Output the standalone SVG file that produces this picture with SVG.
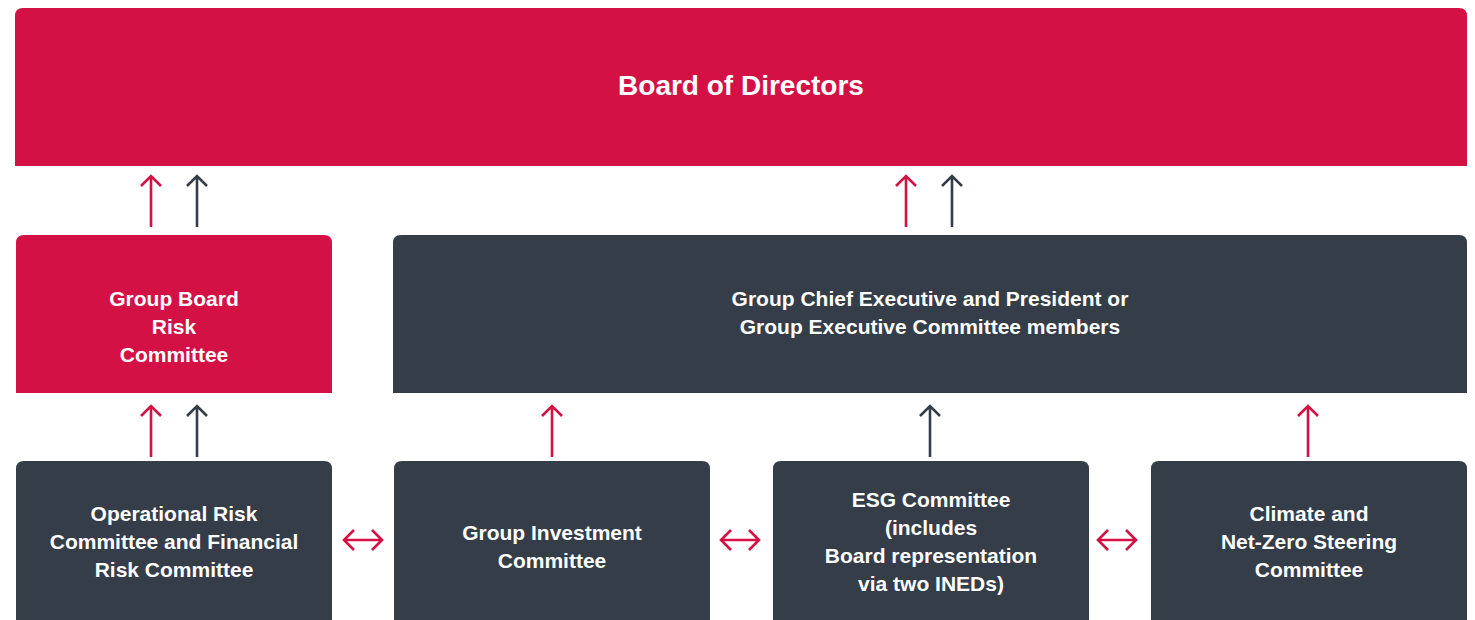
<svg xmlns="http://www.w3.org/2000/svg" width="1475" height="620" viewBox="0 0 1475 620">
<style>
.red{fill:#D31145}
.dark{fill:#343D48}
text{font-family:"Liberation Sans",Arial,sans-serif;font-weight:bold;fill:#fff;text-anchor:middle;font-size:21px}
.title{font-size:28px}
.ar{fill:none;stroke-width:2.6;stroke-linecap:butt;stroke-linejoin:miter}
.r{stroke:#D31145}
.d{stroke:#343D48}
</style>
<rect width="1475" height="620" fill="#fff"/>
<g id="board">
<path class="red" d="M15,166 V16 Q15,8 23,8 H1459 Q1467,8 1467,16 V166 Z"/>
<text class="title" x="741" y="95">Board of Directors</text>
</g>
<g id="gbrc">
<path class="red" d="M16,393 V243 Q16,235 24,235 H324 Q332,235 332,243 V393 Z"/>
<text x="174" y="306">Group Board</text>
<text x="174" y="334">Risk</text>
<text x="174" y="362">Committee</text>
</g>
<g id="gce">
<path class="dark" d="M393,393 V243 Q393,235 401,235 H1459 Q1467,235 1467,243 V393 Z"/>
<text x="930" y="306">Group Chief Executive and President or</text>
<text x="930" y="334">Group Executive Committee members</text>
</g>
<g id="orc">
<path class="dark" d="M16,620 V469 Q16,461 24,461 H324 Q332,461 332,469 V620 Z"/>
<text x="174" y="521">Operational Risk</text>
<text x="174" y="549">Committee and Financial</text>
<text x="174" y="577">Risk Committee</text>
</g>
<g id="gic">
<path class="dark" d="M394,620 V469 Q394,461 402,461 H702 Q710,461 710,469 V620 Z"/>
<text x="552" y="540">Group Investment</text>
<text x="552" y="568">Committee</text>
</g>
<g id="esg">
<path class="dark" d="M773,620 V469 Q773,461 781,461 H1081 Q1089,461 1089,469 V620 Z"/>
<text x="931" y="507">ESG Committee</text>
<text x="931" y="535">(includes</text>
<text x="931" y="563">Board representation</text>
<text x="931" y="591">via two INEDs)</text>
</g>
<g id="climate">
<path class="dark" d="M1151,620 V469 Q1151,461 1159,461 H1459 Q1467,461 1467,469 V620 Z"/>
<text x="1309" y="521">Climate and</text>
<text x="1309" y="549">Net-Zero Steering</text>
<text x="1309" y="577">Committee</text>
</g>
<g id="connectors">
<path class="ar r" d="M151,227 V176 M141,186 L151,176 L161,186"/>
<path class="ar d" d="M197,227 V176 M187,186 L197,176 L207,186"/>
<path class="ar r" d="M906,227 V176 M896,186 L906,176 L916,186"/>
<path class="ar d" d="M952,227 V176 M942,186 L952,176 L962,186"/>
<path class="ar r" d="M151,457 V406 M141,416 L151,406 L161,416"/>
<path class="ar d" d="M197,457 V406 M187,416 L197,406 L207,416"/>
<path class="ar r" d="M552,457 V406 M542,416 L552,406 L562,416"/>
<path class="ar d" d="M930,457 V406 M920,416 L930,406 L940,416"/>
<path class="ar r" d="M1308,457 V406 M1298,416 L1308,406 L1318,416"/>
<path class="ar r" d="M344,540 H382 M354,530 L344,540 L354,550 M372,530 L382,540 L372,550"/>
<path class="ar r" d="M721,540 H759 M731,530 L721,540 L731,550 M749,530 L759,540 L749,550"/>
<path class="ar r" d="M1098,540 H1136 M1108,530 L1098,540 L1108,550 M1126,530 L1136,540 L1126,550"/>
</g>
</svg>
